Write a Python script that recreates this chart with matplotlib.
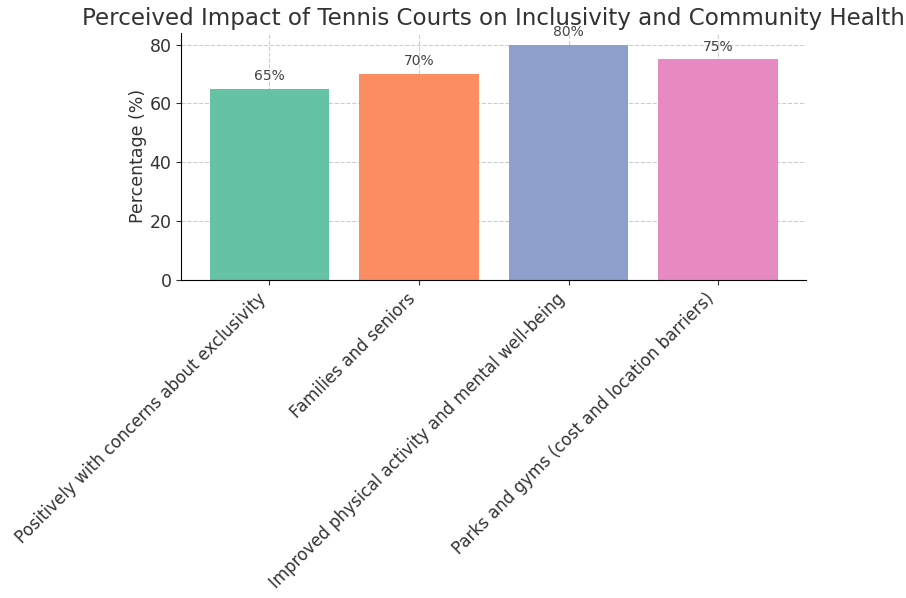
import matplotlib.pyplot as plt
import seaborn as sns

categories = [
    'Positively with concerns about exclusivity',
    'Families and seniors',
    'Improved physical activity and mental well-being',
    'Parks and gyms (cost and location barriers)',
]
percentages = [65, 70, 80, 75]

colors = sns.color_palette('Set2', len(categories))

fig = plt.figure(figsize=(9.06, 5.98), dpi=100)
ax = fig.add_axes([0.2, 0.532, 0.69, 0.413])

bars = ax.bar(categories, percentages, color=colors, width=0.8, zorder=2)

# value labels on top of each bar
for b, v in zip(bars, percentages):
    ax.annotate(f'{v}%', (b.get_x() + b.get_width() / 2, b.get_height()),
                xytext=(0, 4), textcoords='offset points',
                ha='center', va='bottom', fontsize=10, color='#444444')

ax.set_ylim(0, 84)
ax.set_yticks([0, 20, 40, 60, 80])
ax.set_ylabel('Percentage (%)', fontsize=12.5, color='#333333', labelpad=2)
ax.set_title('Perceived Impact of Tennis Courts on Inclusivity and Community Health',
             fontsize=16.6, color='#333333', pad=6)
ax.tick_params(axis='y', labelsize=12.5, colors='#333333')
ax.tick_params(axis='x', labelsize=12, colors='#333333')
plt.setp(ax.get_xticklabels(), rotation=45, ha='right', rotation_mode='default')
ax.grid(True, linestyle='--', color='#cccccc', linewidth=0.8, zorder=0)
ax.spines['top'].set_visible(False)
ax.spines['right'].set_visible(False)

fig.savefig('out.png', dpi=100)
